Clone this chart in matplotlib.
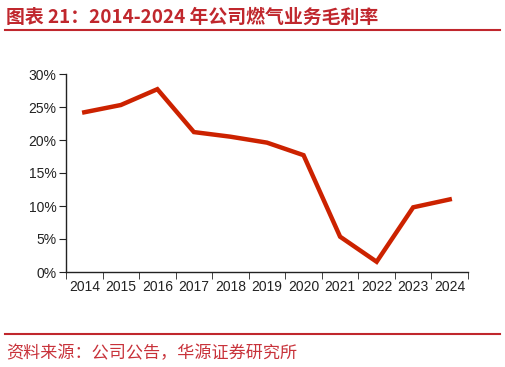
import numpy as np
import matplotlib.pyplot as plt
from matplotlib.lines import Line2D

plt.rcParams['font.family'] = ['Liberation Sans', 'Noto Sans CJK SC', 'DejaVu Sans']

years = ['2014', '2015', '2016', '2017', '2018', '2019', '2020', '2021', '2022', '2023', '2024']
margin = [24.2, 25.3, 27.7, 21.2, 20.5, 19.6, 17.7, 5.35, 1.55, 9.8, 11.0]

title = '图表 21：2014-2024 年公司燃气业务毛利率'
source = '资料来源：公司公告，华源证券研究所'
red = '#C0272D'

fig = plt.figure(figsize=(5.06, 3.67), dpi=100)
W, H = 506, 367
ax = fig.add_axes([66 / W, (H - 272) / H, (468 - 66) / W, (272 - 74) / H])

x = np.arange(len(years))
ax.plot(x, np.array(margin) / 100, color='#CC2200', lw=3.2, solid_joinstyle='miter')

ax.set_xlim(-0.5, len(years) - 0.5)
ax.set_ylim(0, 0.30)
ax.set_yticks(np.arange(0, 0.31, 0.05))
ax.set_yticklabels([f'{int(round(v * 100))}%' for v in np.arange(0, 0.31, 0.05)])
ax.set_xticks(x)
ax.set_xticklabels(years)
ax.set_xticks(np.arange(-0.5, len(years), 1), minor=True)
ax.tick_params(axis='x', which='major', length=0, pad=6)
ax.tick_params(axis='x', which='minor', length=5, direction='out', color='#222222')
ax.tick_params(axis='y', length=5, direction='out', color='#222222', pad=2)
ax.tick_params(labelsize=10, labelcolor='#222222')
for s in ['top', 'right']:
    ax.spines[s].set_visible(False)
for s in ['left', 'bottom']:
    ax.spines[s].set_color('#222222')
    ax.spines[s].set_linewidth(1.0)

fig.text(6 / W, 1 - 17 / H, title, fontsize=13.6, fontweight='bold', color=red,
         family=['Noto Sans CJK SC', 'DejaVu Sans'], va='center', ha='left')
fig.add_artist(Line2D([5 / W, 500 / W], [1 - 30 / H, 1 - 30 / H], color=red, lw=1.5))
fig.add_artist(Line2D([5 / W, 500 / W], [1 - 334 / H, 1 - 334 / H], color=red, lw=1.5))
fig.text(6 / W, 1 - 353 / H, source, fontsize=12.3, color='#C8323A',
         family=['Noto Sans CJK SC', 'DejaVu Sans'], va='center', ha='left')

fig.savefig('out.png', dpi=100)
